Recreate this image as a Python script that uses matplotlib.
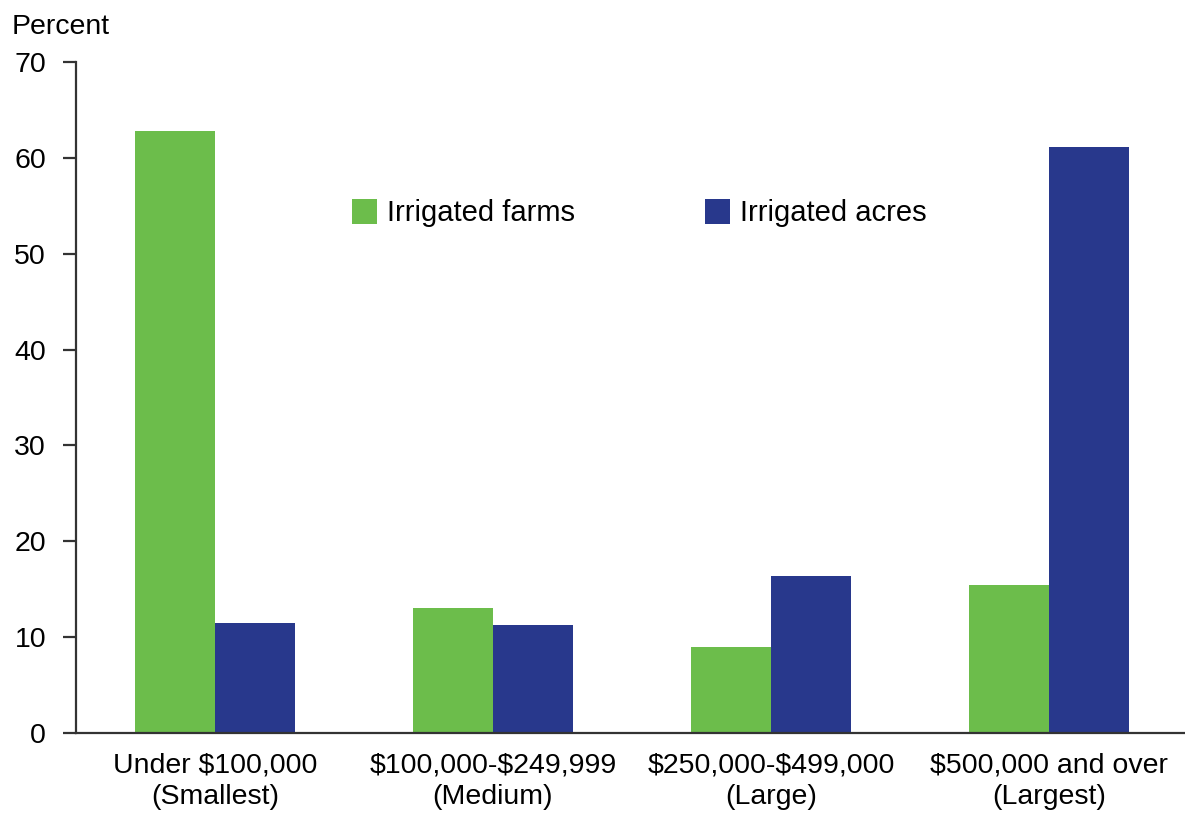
import numpy as np
import matplotlib.pyplot as plt

plt.rcParams['font.family'] = ['Liberation Sans', 'DejaVu Sans']
plt.rcParams['text.parse_math'] = False

# sales class of farm
categories = ['Under $100,000\n(Smallest)', '$100,000-$249,999\n(Medium)',
              '$250,000-$499,000\n(Large)', '$500,000 and over\n(Largest)']
irrigated_farms = [62.8, 13.0, 9.0, 15.4]
irrigated_acres = [11.5, 11.3, 16.4, 61.1]

green = '#6cbd4b'
blue = '#28388c'
fs = 20.5

fig = plt.figure(figsize=(11.85, 8.13), dpi=100)
ax = fig.add_axes([76 / 1185, 80 / 813, 1 - 76 / 1185, 671 / 813])

x = np.arange(len(categories))
w = 0.288
ax.bar(x - w / 2, irrigated_farms, w, color=green, label='Irrigated farms')
ax.bar(x + w / 2, irrigated_acres, w, color=blue, label='Irrigated acres')

ax.set_xlim(-0.5, 3.49)
ax.set_ylim(0, 70)
ax.set_yticks(range(0, 71, 10))
ax.set_xticks(x)
ax.set_xticklabels(categories, linespacing=1.3)

for s in ['top', 'right']:
    ax.spines[s].set_visible(False)
for s in ['left', 'bottom']:
    ax.spines[s].set_linewidth(1.6)
    ax.spines[s].set_color('#333333')

ax.tick_params(axis='y', length=9.5, width=1.6, color='#333333', pad=12, labelsize=fs)
ax.tick_params(axis='x', length=0, pad=14, labelsize=fs)

fig.text(12 / 1185, 1 - 34 / 813, 'Percent', fontsize=fs, va='baseline')

ax.legend(loc='center left', bbox_to_anchor=(352 / 1185, 1 - 213 / 813),
          bbox_transform=fig.transFigure, ncol=2, frameon=False, fontsize=21,
          handlelength=0.85, handleheight=0.95, handletextpad=0.35,
          columnspacing=4.45, borderpad=0, borderaxespad=0)

fig.savefig('out.png', dpi=100)
